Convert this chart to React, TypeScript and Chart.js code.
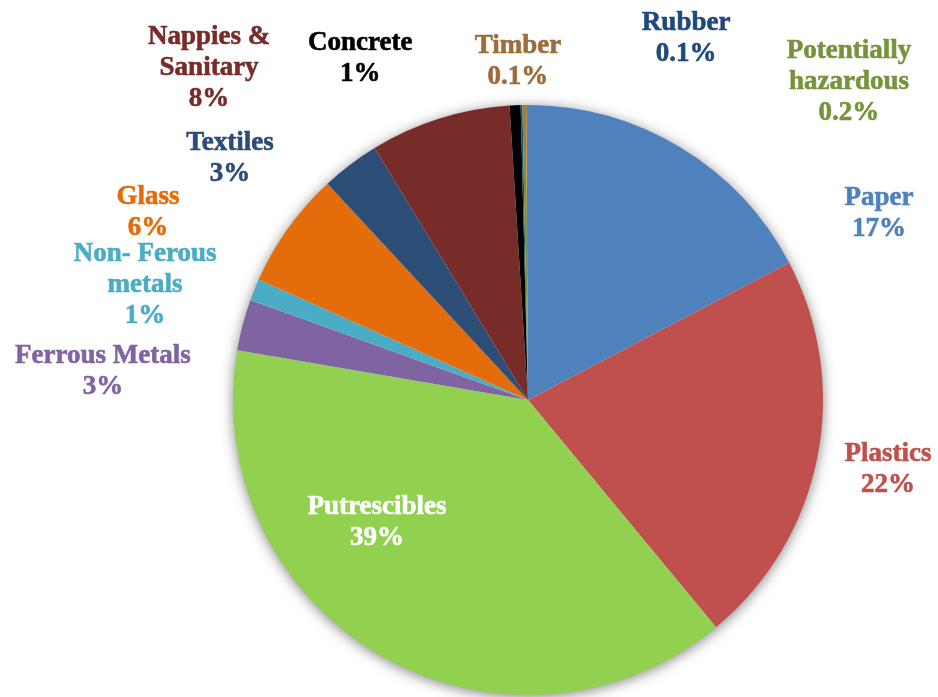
import React, { useEffect, useRef } from "react";
import { Chart, registerables } from "chart.js";

Chart.register(...registerables);

const categories: string[][] = [
  ["Paper"],
  ["Plastics"],
  ["Putrescibles"],
  ["Ferrous Metals"],
  ["Non- Ferous", "metals"],
  ["Glass"],
  ["Textiles"],
  ["Nappies &", "Sanitary"],
  ["Concrete"],
  ["Rubber"],
  ["Potentially", "hazardous"],
  ["Timber"],
];

const shares: number[] = [17.3, 21.7, 38.7, 2.8, 1.2, 6.4, 3.2, 7.7, 0.6, 0.1, 0.2, 0.1];

const sliceColors: string[] = [
  "#4F81BD", "#C0504D", "#92D050", "#8064A2", "#4BACC6", "#E46C0A",
  "#2C4D75", "#772C2A", "#000000", "#1F497D", "#77933C", "#C8661C",
];

const labelColors: string[] = [
  "#4F81BD", "#C0504D", "#FFFFFF", "#8064A2", "#4BACC6", "#E46C0A",
  "#2C4D75", "#772C2A", "#000000", "#1F497D", "#77933C", "#9E6B3B",
];

// label block centres, relative to pie centre, in units of the pie radius
const labelOffsets: [number, number][] = [
  [1.19, -0.631],
  [1.22, 0.237],
  [-0.512, 0.414],
  [-1.441, -0.095],
  [-1.298, -0.39],
  [-1.288, -0.637],
  [-1.01, -0.82],
  [-1.081, -1.125],
  [-0.569, -1.159],
  [0.536, -1.224],
  [1.088, -1.078],
  [-0.034, -1.149],
];

const FONT = 'bold 27px "Liberation Serif", "Times New Roman", serif';
const LINE_H = 31;

function fmtPct(v: number, total: number): string {
  const p = (v / total) * 100;
  return p >= 0.5 ? `${Math.round(p)}%` : `${p.toFixed(1)}%`;
}

const shadowPlugin = {
  id: "pieShadow",
  beforeDatasetsDraw(chart: any) {
    const meta = chart.getDatasetMeta(0);
    const arc = meta.data[0];
    if (!arc) return;
    const { x, y, outerRadius } = arc as any;
    const ctx = chart.ctx;
    ctx.save();
    ctx.shadowColor = "rgba(0,0,0,0.55)";
    ctx.shadowBlur = 14;
    ctx.shadowOffsetX = 0;
    ctx.shadowOffsetY = 2;
    ctx.fillStyle = "#ffffff";
    ctx.beginPath();
    ctx.arc(x, y, outerRadius - 1, 0, Math.PI * 2);
    ctx.fill();
    ctx.restore();
  },
};

const labelPlugin = {
  id: "pieLabels",
  afterDatasetsDraw(chart: any) {
    const meta = chart.getDatasetMeta(0);
    const ds = chart.data.datasets[0];
    const total = (ds.data as number[]).reduce((a, b) => a + b, 0);
    const ctx = chart.ctx;
    ctx.save();
    ctx.font = FONT;
    ctx.textAlign = "center";
    ctx.textBaseline = "middle";
    ctx.lineWidth = 0.6;
    ctx.lineJoin = "round";
    meta.data.forEach((arc: any, i: number) => {
      const { x, y, outerRadius } = arc;
      const [ox, oy] = labelOffsets[i];
      const cx = x + ox * outerRadius;
      const cy = y + oy * outerRadius;
      const lines = [...(chart.data.labels[i] as string[]), fmtPct(ds.data[i], total)];
      const startY = cy - ((lines.length - 1) * LINE_H) / 2;
      ctx.fillStyle = labelColors[i];
      ctx.strokeStyle = labelColors[i];
      lines.forEach((ln, k) => {
        ctx.fillText(ln, cx, startY + k * LINE_H);
        ctx.strokeText(ln, cx, startY + k * LINE_H);
      });
    });
    ctx.restore();
  },
};

export default function App() {
  const ref = useRef<HTMLCanvasElement | null>(null);
  useEffect(() => {
    if (!ref.current) return;
    const chart = new Chart(ref.current, {
      type: "pie",
      data: {
        labels: categories as any,
        datasets: [
          {
            data: shares,
            backgroundColor: sliceColors,
            borderWidth: 0,
          },
        ],
      },
      options: {
        responsive: false,
        animation: false,
        layout: { padding: { left: 233, right: 115, top: 105, bottom: 2 } },
        plugins: {
          legend: { display: false },
          tooltip: { enabled: false },
        },
      },
      plugins: [shadowPlugin, labelPlugin],
    });
    return () => chart.destroy();
  }, []);
  return (
    <div style={{ position: "absolute", left: 0, top: 0, width: 938, height: 697, background: "#fff" }}>
      <canvas ref={ref} width={938} height={697} style={{ display: "block" }} />
    </div>
  );
}
